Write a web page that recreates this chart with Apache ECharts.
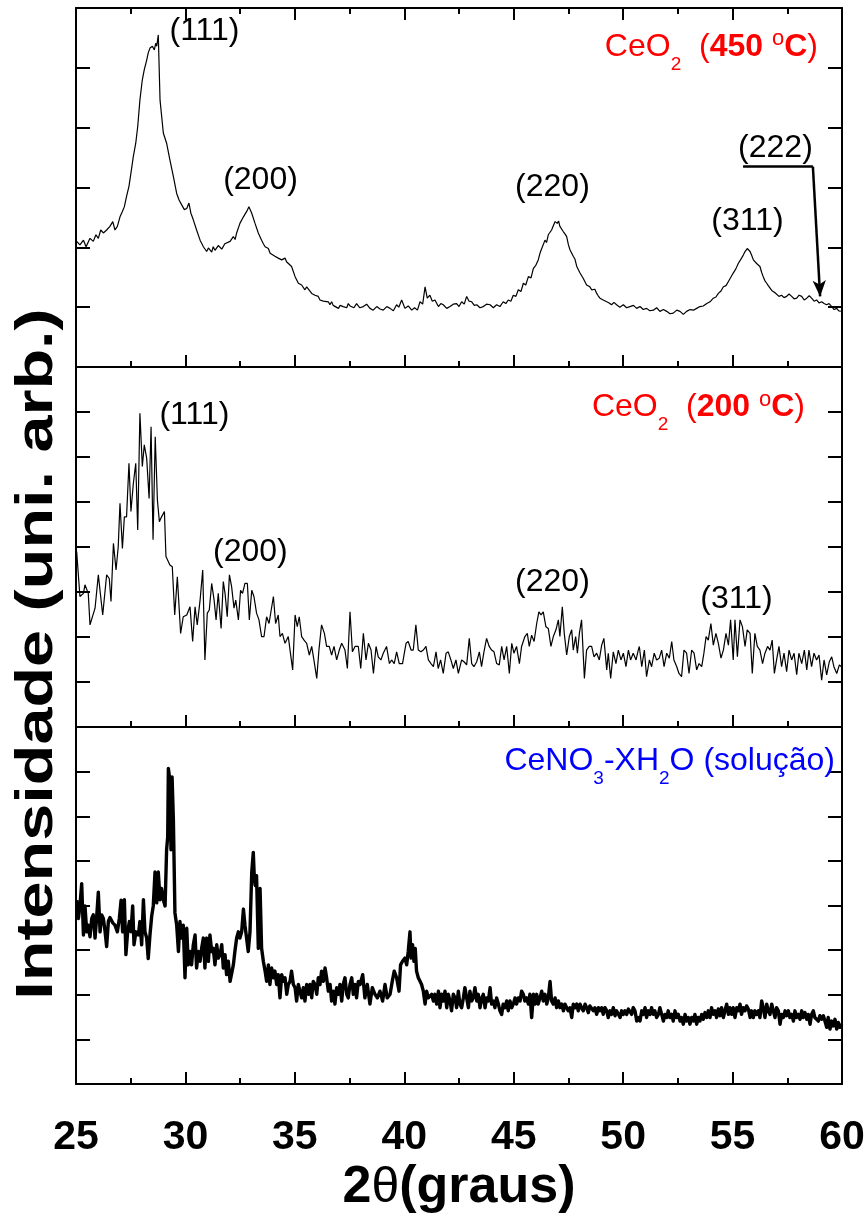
<!DOCTYPE html>
<html>
<head>
<meta charset="utf-8">
<script src="https://cdn.jsdelivr.net/npm/echarts@6/dist/echarts.min.js"></script>
<style>
html,body{margin:0;padding:0;background:#fff;}
#chart{width:868px;height:1215px;}
</style>
</head>
<body>
<div id="chart"></div>
<script>
// ---- data (2θ in degrees, intensity in arbitrary units per panel) ----
const xTicks = [25, 30, 35, 40, 45, 50, 55, 60];

const xrd450 = [[25.03,2.10],[25.18,2.04],[25.34,2.12],[25.46,2.01],[25.64,2.15],[25.79,2.10],[25.91,2.21],[26.02,2.15],[26.13,2.29],[26.25,2.24],[26.40,2.29],[26.55,2.35],[26.68,2.43],[26.78,2.29],[26.89,2.35],[27.01,2.51],[27.12,2.60],[27.21,2.68],[27.31,2.85],[27.42,3.02],[27.51,3.24],[27.62,3.52],[27.73,3.74],[27.82,4.02],[27.92,4.46],[28.03,4.80],[28.12,4.97],[28.23,5.13],[28.30,5.25],[28.38,5.33],[28.49,5.36],[28.58,5.30],[28.64,5.41],[28.69,5.36],[28.76,5.55],[28.84,4.46],[28.99,3.91],[29.14,3.74],[29.29,3.46],[29.45,3.18],[29.60,2.90],[29.71,2.79],[29.83,2.71],[29.95,2.63],[30.06,2.65],[30.16,2.74],[30.25,2.57],[30.36,2.46],[30.51,2.29],[30.67,2.12],[30.82,2.01],[30.97,1.93],[31.05,1.99],[31.12,1.96],[31.20,1.92],[31.27,2.01],[31.35,1.95],[31.43,1.96],[31.50,2.03],[31.58,2.04],[31.66,1.97],[31.73,1.98],[31.80,2.06],[31.88,2.04],[32.04,2.10],[32.19,2.18],[32.27,2.13],[32.34,2.24],[32.49,2.40],[32.65,2.51],[32.80,2.60],[32.90,2.68],[33.03,2.57],[33.18,2.40],[33.33,2.24],[33.48,2.12],[33.56,2.06],[33.64,2.01],[33.72,2.04],[33.79,1.98],[33.87,1.90],[33.94,1.93],[34.09,1.85],[34.17,1.88],[34.24,1.82],[34.40,1.79],[34.55,1.82],[34.62,1.76],[34.70,1.73],[34.85,1.68],[35.01,1.51],[35.16,1.40],[35.23,1.43],[35.31,1.37],[35.46,1.29],[35.54,1.34],[35.62,1.32],[35.77,1.23],[35.85,1.26],[35.92,1.20],[36.07,1.18],[36.15,1.12],[36.22,1.15],[36.30,1.10],[36.38,1.12],[36.53,1.09],[36.60,1.04],[36.68,1.09],[36.75,1.03],[36.83,1.06],[36.99,0.98],[37.07,1.03],[37.14,1.06],[37.21,1.01],[37.29,1.04],[37.37,0.99],[37.44,1.06],[37.52,1.02],[37.60,1.04],[37.70,0.99],[37.82,1.06],[37.97,0.99],[38.13,1.01],[38.28,1.05],[38.43,0.98],[38.58,0.95],[38.74,1.01],[38.89,0.97],[39.04,0.95],[39.20,1.01],[39.35,0.98],[39.50,0.94],[39.65,1.04],[39.75,1.00],[39.88,1.12],[40.03,0.98],[40.18,1.02],[40.34,0.95],[40.47,0.99],[40.60,0.95],[40.72,1.09],[40.84,1.05],[40.95,1.34],[41.05,1.15],[41.17,1.20],[41.28,1.10],[41.40,1.12],[41.56,1.01],[41.67,1.06],[41.78,1.04],[41.94,0.98],[42.09,1.01],[42.24,1.05],[42.39,1.06],[42.50,1.01],[42.62,1.09],[42.74,1.05],[42.85,1.18],[42.96,1.10],[43.08,1.09],[43.20,1.03],[43.31,1.04],[43.46,0.99],[43.61,1.01],[43.76,1.05],[43.92,1.04],[44.07,0.99],[44.22,1.04],[44.37,1.01],[44.52,1.09],[44.64,1.06],[44.75,1.12],[44.87,1.10],[44.98,1.20],[45.10,1.18],[45.21,1.29],[45.33,1.26],[45.44,1.40],[45.55,1.37],[45.67,1.51],[45.79,1.49],[45.90,1.65],[46.01,1.70],[46.12,1.79],[46.20,1.90],[46.28,1.98],[46.35,1.96],[46.43,2.12],[46.50,2.08],[46.58,2.21],[46.66,2.19],[46.73,2.29],[46.81,2.31],[46.89,2.43],[46.99,2.40],[47.05,2.44],[47.11,2.35],[47.19,2.33],[47.27,2.26],[47.35,2.22],[47.42,2.18],[47.50,2.04],[47.57,1.96],[47.65,1.93],[47.72,1.85],[47.80,1.80],[47.88,1.68],[47.95,1.65],[48.03,1.57],[48.10,1.55],[48.18,1.48],[48.26,1.45],[48.33,1.37],[48.41,1.40],[48.48,1.34],[48.56,1.29],[48.64,1.26],[48.71,1.30],[48.79,1.23],[48.86,1.19],[48.94,1.15],[49.02,1.17],[49.09,1.12],[49.17,1.14],[49.25,1.09],[49.36,1.07],[49.47,1.04],[49.58,1.08],[49.70,1.04],[49.85,1.00],[50.01,1.04],[50.16,0.99],[50.31,1.01],[50.47,1.03],[50.62,0.98],[50.77,1.01],[50.92,0.96],[51.07,0.98],[51.22,0.94],[51.38,0.95],[51.53,0.99],[51.68,0.93],[51.84,0.96],[51.99,0.93],[52.14,0.89],[52.29,0.90],[52.45,0.95],[52.60,0.93],[52.75,0.88],[52.90,0.93],[53.06,0.96],[53.21,0.95],[53.36,0.98],[53.51,1.01],[53.66,1.02],[53.82,1.06],[53.97,1.09],[54.12,1.15],[54.24,1.17],[54.35,1.23],[54.47,1.27],[54.58,1.34],[54.70,1.36],[54.81,1.43],[54.92,1.50],[55.03,1.57],[55.15,1.64],[55.26,1.73],[55.34,1.76],[55.41,1.82],[55.49,1.87],[55.57,1.93],[55.67,1.98],[55.74,1.96],[55.80,1.93],[55.88,1.86],[55.95,1.79],[56.02,1.77],[56.10,1.73],[56.18,1.72],[56.25,1.68],[56.33,1.58],[56.40,1.51],[56.48,1.44],[56.56,1.40],[56.63,1.36],[56.71,1.34],[56.79,1.28],[56.86,1.26],[56.94,1.24],[57.01,1.23],[57.12,1.18],[57.24,1.20],[57.35,1.16],[57.47,1.18],[57.58,1.22],[57.70,1.18],[57.81,1.14],[57.93,1.15],[58.04,1.20],[58.16,1.18],[58.27,1.12],[58.39,1.15],[58.50,1.19],[58.61,1.15],[58.73,1.10],[58.84,1.12],[58.95,1.07],[59.07,1.09],[59.18,1.06],[59.30,1.04],[59.41,1.06],[59.53,1.01],[59.64,0.96],[59.76,0.98],[59.85,0.94],[59.94,0.93]];

const xrd200 = [[25.03,3.90],[25.18,2.90],[25.34,2.97],[25.41,3.16],[25.56,2.97],[25.64,2.27],[25.72,2.30],[25.87,2.64],[26.02,3.38],[26.22,2.49],[26.40,3.38],[26.52,3.30],[26.60,2.79],[26.71,4.08],[26.83,3.49],[26.93,4.01],[27.01,4.97],[27.12,3.97],[27.21,4.67],[27.31,4.67],[27.42,5.86],[27.51,4.79],[27.62,5.41],[27.73,5.86],[27.82,4.38],[27.92,6.97],[28.03,5.79],[28.12,6.27],[28.23,5.97],[28.34,5.08],[28.43,6.67],[28.52,4.16],[28.62,6.45],[28.72,5.04],[28.81,4.56],[28.91,4.67],[29.04,4.79],[29.11,3.79],[29.29,3.60],[29.40,3.56],[29.51,2.49],[29.63,3.34],[29.78,2.08],[29.90,2.45],[30.06,2.49],[30.21,2.67],[30.33,1.90],[30.44,2.67],[30.54,2.27],[30.67,2.82],[30.79,3.49],[30.89,1.49],[31.00,2.53],[31.09,2.60],[31.20,3.19],[31.31,2.82],[31.40,2.38],[31.50,2.97],[31.63,2.19],[31.73,3.23],[31.81,2.97],[31.91,2.45],[32.01,3.38],[32.11,3.12],[32.22,2.64],[32.30,2.82],[32.42,2.38],[32.52,3.04],[32.61,2.97],[32.72,3.19],[32.83,3.19],[32.92,2.38],[33.03,3.04],[33.13,2.90],[33.25,2.53],[33.36,2.38],[33.48,2.01],[33.59,2.01],[33.71,2.45],[33.82,2.30],[33.91,2.30],[34.02,2.90],[34.12,2.30],[34.24,2.49],[34.32,2.01],[34.43,2.08],[34.55,1.86],[34.70,2.01],[34.78,1.71],[34.90,1.27],[35.01,2.49],[35.11,2.23],[35.20,2.45],[35.31,2.01],[35.42,1.93],[35.54,1.86],[35.66,1.60],[35.77,1.79],[35.87,1.49],[36.00,1.08],[36.10,1.71],[36.22,2.27],[36.35,2.08],[36.45,1.79],[36.57,1.79],[36.68,1.60],[36.79,1.79],[36.91,1.49],[37.03,1.71],[37.14,1.86],[37.29,1.71],[37.40,1.30],[37.52,2.56],[37.63,1.67],[37.75,1.79],[37.90,1.79],[38.01,1.30],[38.13,2.08],[38.25,1.49],[38.36,1.86],[38.48,1.71],[38.59,1.19],[38.71,1.79],[38.81,1.56],[38.93,1.49],[39.04,1.64],[39.19,1.79],[39.32,1.41],[39.42,1.49],[39.54,1.41],[39.65,1.67],[39.77,1.41],[39.92,1.41],[40.08,1.86],[40.18,1.90],[40.31,1.71],[40.41,1.71],[40.53,2.27],[40.64,1.71],[40.76,1.67],[40.87,1.71],[40.99,1.79],[41.10,1.49],[41.22,1.41],[41.33,1.34],[41.45,1.67],[41.55,1.30],[41.66,1.49],[41.78,1.19],[41.91,1.64],[42.01,1.67],[42.13,1.49],[42.24,1.30],[42.36,1.49],[42.47,1.19],[42.62,1.49],[42.73,1.45],[42.85,1.38],[42.97,1.97],[43.08,1.41],[43.18,1.34],[43.31,1.45],[43.43,1.67],[43.53,1.34],[43.64,1.67],[43.76,1.97],[43.88,1.79],[43.99,1.71],[44.10,1.67],[44.22,1.41],[44.34,1.38],[44.45,1.79],[44.56,1.49],[44.68,1.79],[44.80,1.19],[44.91,1.86],[45.01,1.64],[45.13,1.79],[45.26,1.41],[45.36,1.79],[45.51,2.01],[45.62,2.08],[45.71,1.79],[45.82,2.04],[45.93,1.90],[46.05,2.30],[46.15,2.56],[46.25,2.49],[46.35,2.56],[46.47,2.23],[46.58,2.19],[46.70,1.79],[46.81,2.01],[46.93,2.16],[47.04,2.38],[47.11,2.01],[47.22,2.67],[47.31,2.08],[47.42,1.60],[47.54,2.01],[47.65,2.16],[47.72,1.71],[47.83,2.01],[47.91,1.64],[48.00,2.08],[48.10,2.38],[48.23,1.08],[48.33,1.71],[48.45,1.79],[48.56,1.79],[48.67,1.56],[48.79,1.64],[48.91,1.49],[49.02,1.82],[49.12,1.97],[49.25,1.27],[49.32,1.64],[49.43,1.08],[49.55,1.67],[49.67,1.41],[49.78,1.71],[49.90,1.49],[50.01,1.64],[50.13,1.34],[50.24,1.71],[50.34,1.49],[50.46,1.64],[50.59,1.49],[50.69,1.71],[50.74,1.79],[50.85,1.34],[50.97,1.71],[51.07,1.12],[51.20,1.49],[51.30,1.34],[51.42,1.64],[51.53,1.49],[51.65,1.53],[51.76,1.71],[51.87,1.34],[51.99,1.64],[52.11,1.53],[52.22,1.90],[52.32,1.49],[52.45,1.34],[52.55,1.19],[52.67,1.12],[52.78,1.71],[52.90,1.64],[53.01,1.19],[53.13,1.71],[53.24,1.64],[53.36,1.27],[53.47,1.41],[53.59,1.34],[53.69,1.64],[53.79,2.01],[53.89,1.93],[54.01,2.30],[54.12,1.82],[54.24,2.08],[54.35,1.86],[54.47,1.53],[54.58,1.71],[54.70,2.08],[54.81,1.82],[54.91,2.38],[55.03,1.49],[55.11,2.38],[55.22,1.56],[55.34,2.38],[55.45,2.23],[55.57,1.79],[55.67,2.16],[55.80,2.08],[55.90,1.19],[56.02,2.08],[56.13,1.79],[56.25,1.71],[56.37,1.41],[56.48,1.64],[56.60,1.79],[56.71,1.71],[56.81,1.93],[56.91,1.19],[57.01,1.49],[57.12,1.79],[57.24,1.34],[57.35,1.64],[57.47,1.23],[57.58,1.71],[57.70,1.49],[57.81,1.64],[57.93,1.16],[58.03,1.64],[58.16,1.41],[58.28,1.71],[58.39,1.27],[58.49,1.71],[58.61,1.34],[58.72,1.64],[58.84,1.49],[58.95,1.60],[59.07,1.04],[59.18,1.49],[59.30,1.16],[59.42,1.45],[59.53,1.56],[59.63,1.34],[59.76,1.19],[59.88,1.38],[59.97,1.34]];

const xrdSolution = [[25.03,4.12],[25.11,3.71],[25.18,3.99],[25.26,4.49],[25.34,3.34],[25.41,3.99],[25.49,3.41],[25.56,3.56],[25.64,3.30],[25.72,3.71],[25.79,3.79],[25.87,3.27],[25.94,3.71],[26.02,4.30],[26.10,3.41],[26.17,3.79],[26.25,3.71],[26.33,3.41],[26.40,3.08],[26.48,3.65],[26.55,3.73],[26.68,3.61],[26.78,3.56],[26.89,3.41],[26.98,3.71],[27.06,4.12],[27.13,3.41],[27.21,4.13],[27.28,2.90],[27.36,3.41],[27.44,3.64],[27.51,3.41],[27.59,3.99],[27.65,3.12],[27.74,3.41],[27.85,3.34],[27.92,3.64],[28.00,3.12],[28.08,4.13],[28.15,3.41],[28.23,3.27],[28.30,2.81],[28.38,3.34],[28.46,3.77],[28.53,3.99],[28.61,4.75],[28.69,4.06],[28.76,4.75],[28.84,4.13],[28.91,4.38],[28.99,4.13],[29.07,3.99],[29.14,5.25],[29.19,5.54],[29.22,7.07],[29.29,6.81],[29.34,5.25],[29.39,6.88],[29.45,5.91],[29.52,3.84],[29.60,3.56],[29.68,2.97],[29.75,3.64],[29.83,3.27],[29.90,3.56],[29.98,2.38],[30.06,3.49],[30.13,2.67],[30.21,2.97],[30.28,2.67],[30.36,3.12],[30.44,3.34],[30.51,2.60],[30.59,2.97],[30.67,2.75],[30.74,3.04],[30.82,3.27],[30.89,2.60],[30.97,3.27],[31.05,2.75],[31.12,3.34],[31.20,2.97],[31.27,3.04],[31.35,2.67],[31.43,3.12],[31.50,2.82],[31.58,2.90],[31.66,3.12],[31.73,2.60],[31.81,2.90],[31.88,2.45],[31.96,2.75],[32.04,2.30],[32.11,2.30],[32.19,2.67],[32.26,2.97],[32.34,3.27],[32.42,3.41],[32.49,3.27],[32.57,3.41],[32.65,3.92],[32.72,3.56],[32.80,3.56],[32.87,2.97],[32.95,3.41],[33.03,4.75],[33.10,5.19],[33.15,4.60],[33.19,4.45],[33.25,4.67],[33.33,3.04],[33.41,4.38],[33.48,3.04],[33.56,2.75],[33.64,2.53],[33.71,2.30],[33.79,2.67],[33.86,2.23],[33.94,2.60],[34.02,2.38],[34.09,2.53],[34.17,2.23],[34.24,2.45],[34.32,1.93],[34.40,2.45],[34.47,2.30],[34.55,2.38],[34.63,2.01],[34.70,2.23],[34.78,2.30],[34.85,2.53],[34.93,2.23],[35.01,2.16],[35.08,1.86],[35.16,2.23],[35.23,2.08],[35.31,1.93],[35.39,2.16],[35.46,1.86],[35.54,2.23],[35.62,2.01],[35.69,2.23],[35.77,1.93],[35.84,2.30],[35.92,2.23],[36.00,2.01],[36.07,2.38],[36.15,2.23],[36.22,2.53],[36.30,2.30],[36.38,2.60],[36.45,2.38],[36.53,2.08],[36.61,2.23],[36.68,1.86],[36.76,2.08],[36.83,1.79],[36.91,2.16],[36.99,2.01],[37.06,2.23],[37.14,1.86],[37.21,2.23],[37.29,2.38],[37.37,2.01],[37.44,1.93],[37.52,2.23],[37.60,2.38],[37.67,2.01],[37.75,2.23],[37.82,1.93],[37.90,2.30],[37.98,2.23],[38.10,2.45],[38.20,1.93],[38.31,2.23],[38.43,1.79],[38.54,2.16],[38.66,2.01],[38.77,1.93],[38.89,2.08],[39.01,1.86],[39.12,2.23],[39.22,1.93],[39.35,2.01],[39.45,2.30],[39.54,2.53],[39.65,2.38],[39.76,2.08],[39.83,2.67],[39.92,2.75],[40.03,2.82],[40.11,2.67],[40.18,2.97],[40.26,3.41],[40.31,2.82],[40.38,3.12],[40.44,2.75],[40.50,3.04],[40.56,2.53],[40.64,2.38],[40.72,2.30],[40.79,2.23],[40.87,2.08],[40.95,1.79],[41.02,2.08],[41.10,1.93],[41.17,1.93],[41.25,2.01],[41.33,1.86],[41.40,2.01],[41.48,1.79],[41.56,2.08],[41.63,1.71],[41.71,2.01],[41.78,1.86],[41.86,2.08],[41.94,1.71],[42.01,2.01],[42.09,1.86],[42.16,1.64],[42.24,2.01],[42.32,1.93],[42.39,1.71],[42.47,2.08],[42.54,1.79],[42.62,1.71],[42.70,1.93],[42.77,2.16],[42.85,1.93],[42.93,1.71],[43.00,2.08],[43.08,1.86],[43.15,1.93],[43.23,2.16],[43.31,1.86],[43.38,2.01],[43.46,1.71],[43.54,1.93],[43.61,2.01],[43.69,1.71],[43.76,1.93],[43.84,1.86],[43.92,2.16],[43.99,1.79],[44.07,1.86],[44.14,1.71],[44.22,1.93],[44.30,1.79],[44.37,1.64],[44.45,1.56],[44.52,1.79],[44.60,1.71],[44.68,1.86],[44.75,1.64],[44.83,1.86],[44.91,1.71],[44.98,1.79],[45.06,1.93],[45.13,1.79],[45.21,1.93],[45.29,1.86],[45.36,2.08],[45.44,2.01],[45.51,1.86],[45.59,1.93],[45.67,1.79],[45.74,2.01],[45.82,1.49],[45.90,2.01],[45.97,1.79],[46.05,2.01],[46.12,1.79],[46.20,1.93],[46.28,2.08],[46.35,1.86],[46.43,2.01],[46.51,1.79],[46.58,1.93],[46.66,2.30],[46.73,1.86],[46.81,1.79],[46.89,1.93],[46.96,1.71],[47.04,1.86],[47.11,1.71],[47.19,1.79],[47.27,1.64],[47.34,1.79],[47.42,1.71],[47.49,1.64],[47.57,1.71],[47.65,1.49],[47.72,1.79],[47.80,1.71],[47.88,1.79],[47.95,1.64],[48.03,1.79],[48.10,1.71],[48.18,1.64],[48.26,1.79],[48.33,1.71],[48.41,1.60],[48.48,1.75],[48.56,1.71],[48.64,1.64],[48.71,1.71],[48.79,1.56],[48.87,1.71],[48.94,1.64],[49.02,1.71],[49.09,1.56],[49.17,1.71],[49.25,1.64],[49.32,1.49],[49.40,1.64],[49.47,1.56],[49.55,1.71],[49.63,1.53],[49.70,1.64],[49.78,1.60],[49.86,1.49],[49.93,1.64],[50.01,1.56],[50.08,1.64],[50.16,1.56],[50.24,1.68],[50.31,1.64],[50.39,1.56],[50.46,1.71],[50.54,1.64],[50.62,1.41],[50.69,1.49],[50.77,1.41],[50.85,1.64],[50.92,1.56],[51.00,1.71],[51.07,1.49],[51.15,1.64],[51.23,1.56],[51.30,1.71],[51.38,1.56],[51.45,1.64],[51.53,1.49],[51.61,1.56],[51.68,1.71],[51.76,1.56],[51.84,1.41],[51.91,1.56],[51.99,1.49],[52.06,1.64],[52.14,1.49],[52.22,1.56],[52.29,1.41],[52.37,1.64],[52.45,1.49],[52.52,1.56],[52.60,1.41],[52.67,1.49],[52.75,1.34],[52.83,1.56],[52.90,1.41],[52.98,1.49],[53.05,1.34],[53.13,1.49],[53.21,1.41],[53.28,1.56],[53.36,1.34],[53.43,1.49],[53.51,1.41],[53.59,1.56],[53.66,1.45],[53.74,1.60],[53.82,1.49],[53.89,1.64],[53.97,1.49],[54.04,1.71],[54.12,1.56],[54.20,1.64],[54.27,1.49],[54.35,1.68],[54.43,1.53],[54.50,1.71],[54.58,1.49],[54.65,1.64],[54.73,1.79],[54.81,1.56],[54.88,1.71],[54.96,1.56],[55.03,1.71],[55.11,1.49],[55.19,1.71],[55.26,1.64],[55.34,1.79],[55.41,1.56],[55.49,1.71],[55.57,1.64],[55.64,1.75],[55.72,1.68],[55.80,1.49],[55.87,1.64],[55.95,1.49],[56.02,1.64],[56.10,1.56],[56.18,1.64],[56.25,1.49],[56.33,1.86],[56.40,1.71],[56.48,1.49],[56.56,1.79],[56.63,1.64],[56.71,1.56],[56.79,1.79],[56.86,1.64],[56.94,1.49],[57.01,1.71],[57.09,1.64],[57.17,1.34],[57.24,1.56],[57.32,1.49],[57.40,1.64],[57.47,1.53],[57.55,1.64],[57.62,1.49],[57.70,1.56],[57.78,1.41],[57.85,1.64],[57.93,1.49],[58.01,1.56],[58.08,1.45],[58.16,1.64],[58.23,1.49],[58.31,1.60],[58.39,1.45],[58.46,1.56],[58.54,1.34],[58.61,1.56],[58.69,1.64],[58.76,1.49],[58.84,1.53],[58.92,1.41],[58.99,1.53],[59.07,1.45],[59.15,1.53],[59.22,1.41],[59.30,1.27],[59.37,1.49],[59.45,1.23],[59.53,1.41],[59.60,1.30],[59.68,1.45],[59.76,1.23],[59.83,1.38],[59.91,1.27],[59.99,1.34]];

// peak labels: [text, 2θ, intensity]
const peaks450 = [['(111)', 30.87, 5.62], ['(200)', 33.43, 3.12], ['(220)', 46.77, 3.00], ['(311)', 55.68, 2.43], ['(222)', 56.96, 3.65]];
const peaks200 = [['(111)', 30.41, 6.92], ['(200)', 32.97, 3.88], ['(220)', 46.77, 3.21], ['(311)', 55.18, 2.83]];
// arrow for (222): [2θ, intensity] corner points
const arrow222 = [[55.48, 3.35], [58.67, 3.35], [59.00, 1.18]];
// panel titles: [rich text, right-edge 2θ, intensity, colour]
const panelTitles = [
  ['{m|CeO}{s|2}{m|  (}{b|450 }{p|o}{b|C}{m|)}', 58.90, 5.35, '#ff0000'],
  ['{m|CeO}{s|2}{m|  (}{b|200 }{p|o}{b|C}{m|)}', 58.31, 7.11, '#ff0000'],
  ['{m|CeNO}{s|3}{m|-XH}{s|2}{m|O (solução)}', 59.68, 7.24, '#0000ff']
];
const yMax = [6, 8, 8];

// ---- chart ----
const FONT = "'Liberation Sans', Arial, Helvetica, sans-serif";
const grids = [
  {left: 76, right: 26, top: 8, height: 359},
  {left: 76, right: 26, top: 367, height: 360},
  {left: 76, right: 26, top: 727, height: 360}
];
const lineCol = '#000';
function xAx(i, pos, labels) {
  return {
    gridIndex: i, type: 'value', min: xTicks[0], max: xTicks[xTicks.length - 1], interval: 5, position: pos,
    axisLine: {show: true, onZero: false, lineStyle: {color: lineCol, width: 2}},
    axisTick: {show: true, inside: true, length: 12, lineStyle: {color: lineCol, width: 2}},
    minorTick: {show: true, splitNumber: 2, length: 6, lineStyle: {color: lineCol, width: 2}},
    splitLine: {show: false}, minorSplitLine: {show: false},
    axisLabel: {show: labels, color: '#000', fontSize: 41, fontWeight: 'bold', fontFamily: FONT, margin: 33},
    name: labels ? '{n|2}{t|θ}{n|(graus)}' : '',
    nameLocation: 'middle', nameGap: 78,
    nameTextStyle: {rich: {
      n: {fontSize: 52, fontWeight: 'bold', fontFamily: FONT, color: '#000'},
      t: {fontSize: 50, fontWeight: 'normal', fontFamily: FONT, color: '#000'}
    }}
  };
}
function yAx(i, pos) {
  return {
    gridIndex: i, type: 'value', min: 0, max: yMax[i], interval: 1, position: pos,
    axisLine: {show: true, onZero: false, lineStyle: {color: lineCol, width: 2}},
    axisTick: {show: true, inside: true, length: 14, lineStyle: {color: lineCol, width: 2}},
    axisLabel: {show: false}, splitLine: {show: false}
  };
}
const xAxes = [xAx(0, 'bottom', false), xAx(1, 'bottom', false), xAx(2, 'bottom', true), xAx(0, 'top', false)];
const yAxes = [yAx(0, 'left'), yAx(1, 'left'), yAx(2, 'left'), yAx(0, 'right'), yAx(1, 'right'), yAx(2, 'right')];

const richTitle = (col) => ({
  m: {fontSize: 32, fontFamily: FONT, color: col, opacity: 1},
  b: {fontSize: 32, fontFamily: FONT, fontWeight: 'bold', color: col, opacity: 1},
  s: {fontSize: 19, fontFamily: FONT, color: col, opacity: 1, padding: [36, 0, 0, 0]},
  p: {fontSize: 22, fontFamily: FONT, color: col, opacity: 1, padding: [0, 0, 15, 0]}
});

function annotSeries(i, peaks) {
  const t = panelTitles[i];
  const data = peaks.map(p => ({name: p[0], value: [p[1], p[2]]}));
  data.push({
    name: t[0], value: [t[1], t[2]],
    label: {position: 'left', distance: 0, formatter: t[0], rich: richTitle(t[3])}
  });
  const s = {
    type: 'scatter', xAxisIndex: i, yAxisIndex: i, symbolSize: 0, silent: true, z: 5,
    itemStyle: {opacity: 1},
    label: {show: true, position: 'inside', formatter: p => p.name, fontSize: 32, fontFamily: FONT, color: '#000', opacity: 1},
    emphasis: {disabled: true},
    data: data
  };
  if (i === 0) {
    s.markLine = {
      silent: true, animation: false, symbol: ['none', 'none'],
      label: {show: false},
      lineStyle: {color: '#000', width: 2.5, type: 'solid', opacity: 1},
      data: [
        [{coord: arrow222[0], symbol: 'none'}, {coord: arrow222[1], symbol: 'none'}],
        [{coord: arrow222[1], symbol: 'none'}, {coord: arrow222[2], symbol: 'arrow', symbolSize: [10, 16]}]
      ]
    };
  }
  return s;
}

const chart = echarts.init(document.getElementById('chart'), null, {renderer: 'canvas'});
chart.setOption({
  animation: false,
  backgroundColor: '#fff',
  grid: grids,
  xAxis: xAxes,
  yAxis: yAxes,
  series: [
    {type: 'line', xAxisIndex: 0, yAxisIndex: 0, data: xrd450, showSymbol: false, symbol: 'none', lineStyle: {color: '#000', width: 1.2}, silent: true},
    {type: 'line', xAxisIndex: 1, yAxisIndex: 1, data: xrd200, showSymbol: false, symbol: 'none', lineStyle: {color: '#000', width: 1.2}, silent: true},
    {type: 'line', xAxisIndex: 2, yAxisIndex: 2, data: xrdSolution, showSymbol: false, symbol: 'none', lineStyle: {color: '#000', width: 3.4, join: 'round'}, silent: true},
    annotSeries(0, peaks450),
    annotSeries(1, peaks200),
    annotSeries(2, [])
  ],
  graphic: [{
    type: 'text', x: 38, y: 654, rotation: Math.PI / 2, scaleX: 1.28, scaleY: 1,
    style: {text: 'Intensidade (uni. arb.)', font: 'bold 52px ' + FONT, fill: '#000',
      align: 'center', verticalAlign: 'middle', textAlign: 'center', textVerticalAlign: 'middle'}
  }]
});
</script>
</body>
</html>
